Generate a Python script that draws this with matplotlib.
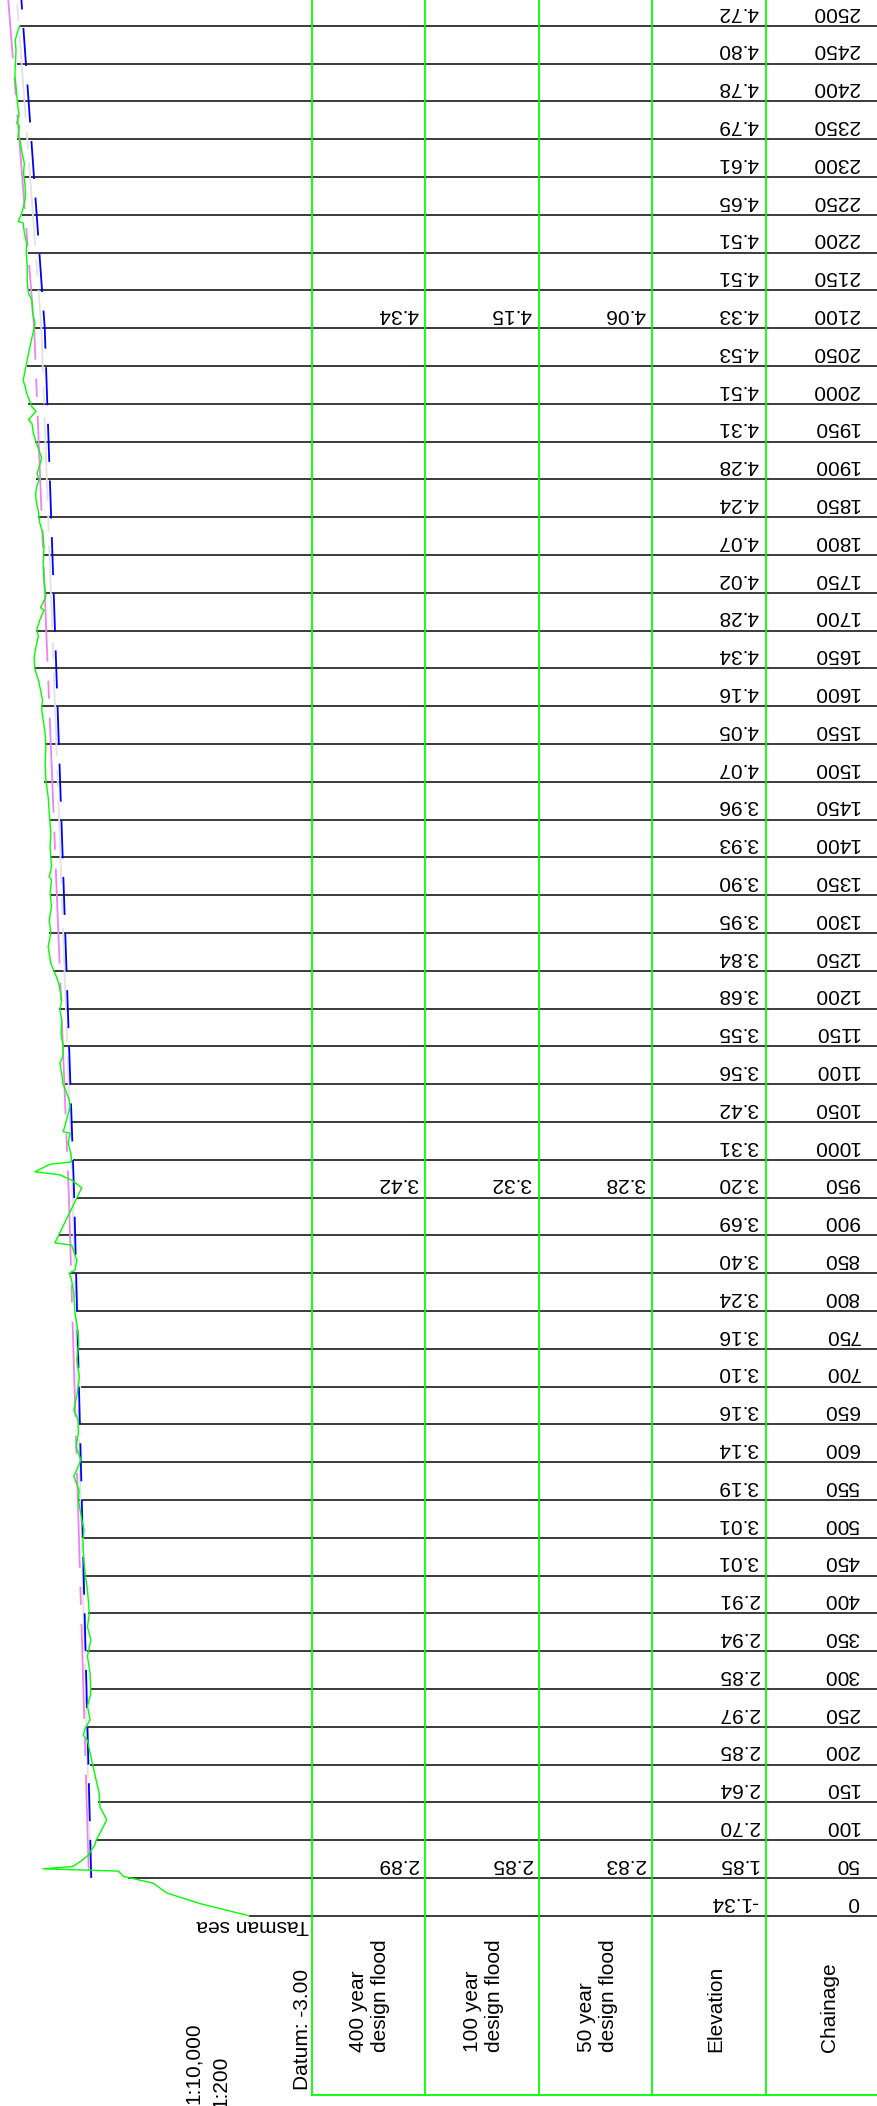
import matplotlib
matplotlib.use("Agg")
import matplotlib.pyplot as plt

plt.rcParams['font.family'] = ['Liberation Sans', 'DejaVu Sans']
plt.rcParams['lines.scale_dashes'] = False

# stations along the long section (m) and ground level at each station (m)
chainage = list(range(0, 2501, 50))
elevation = [-1.34, 1.85, 2.70, 2.64, 2.85, 2.97, 2.85, 2.94, 2.91, 3.01,
             3.01, 3.19, 3.14, 3.16, 3.10, 3.16, 3.24, 3.40, 3.69, 3.20,
             3.31, 3.42, 3.56, 3.55, 3.68, 3.84, 3.95, 3.90, 3.93, 3.96,
             4.07, 4.05, 4.16, 4.34, 4.28, 4.02, 4.07, 4.24, 4.28, 4.31,
             4.51, 4.53, 4.33, 4.51, 4.51, 4.65, 4.61, 4.79, 4.78, 4.80,
             4.72]

# design flood levels
flood_ch = [50, 950, 2100, 2550]
flood_400 = [2.89, 3.42, 4.34, 5.05]
flood_100 = [2.85, 3.32, 4.15, 4.82]
flood_50 = [2.83, 3.28, 4.06, 4.70]

# surveyed ground profile
ground_ch = [0, 16, 30, 43, 52, 59, 62, 65, 73, 80, 87, 94, 100, 109, 127, 144,
             162, 175, 193, 206, 232, 239, 250, 259, 277, 294, 321, 343, 365,
             382, 400, 431, 448, 466, 484, 497, 510, 524, 550, 563, 581, 603,
             620, 638, 656, 669, 691, 713, 735, 757, 779, 797, 823, 841, 850,
             854, 867, 887, 890, 963, 973, 980, 984, 994, 997, 1008, 1022,
             1035, 1037, 1053, 1070, 1079, 1088, 1101, 1114, 1128, 1136, 1150,
             1167, 1185, 1198, 1211, 1229, 1238, 1250, 1260, 1282, 1300, 1317,
             1335, 1352, 1370, 1374, 1388, 1414, 1432, 1458, 1480, 1502, 1524,
             1546, 1564, 1582, 1595, 1608, 1621, 1635, 1644, 1652, 1665, 1679,
             1692, 1701, 1714, 1727, 1730, 1745, 1767, 1789, 1811, 1829, 1842,
             1855, 1873, 1882, 1890, 1899, 1908, 1928, 1948, 1961, 1974, 1979,
             1990, 1996, 2005, 2014, 2023, 2031, 2054, 2076, 2098, 2107, 2120,
             2137, 2146, 2159, 2181, 2199, 2212, 2226, 2239, 2241, 2252, 2261,
             2274, 2288, 2305, 2318, 2332, 2349, 2353, 2367, 2371, 2382, 2393,
             2402, 2420, 2437, 2455, 2468, 2481, 2495, 2500]
ground_el = [-1.34, -0.05, 0.83, 1.19, 1.98, 2.11, 4.11, 3.32, 3.08, 2.91, 2.82,
             2.73, 2.70, 2.60, 2.42, 2.60, 2.62, 2.68, 2.76, 2.82, 2.93, 3.04,
             2.97, 2.86, 2.93, 2.84, 2.86, 2.93, 2.84, 2.93, 2.88, 2.93, 2.98,
             3.02, 3.04, 3.05, 3.02, 3.08, 3.17, 3.15, 3.29, 3.10, 3.23, 3.17,
             3.18, 3.29, 3.20, 3.14, 3.21, 3.16, 3.20, 3.26, 3.29, 3.35, 3.41,
             3.26, 3.21, 3.35, 3.79, 3.08, 3.35, 3.66, 4.32, 3.92, 3.35, 3.37,
             3.44, 3.39, 3.57, 3.48, 3.39, 3.41, 3.48, 3.58, 3.61, 3.66, 3.58,
             3.57, 3.63, 3.61, 3.66, 3.61, 3.67, 3.72, 3.82, 3.90, 3.97, 3.90,
             3.94, 3.88, 3.92, 3.88, 3.94, 3.88, 3.92, 3.90, 3.94, 3.97, 4.03,
             4.05, 4.03, 4.05, 4.10, 4.14, 4.12, 4.17, 4.23, 4.29, 4.33, 4.34,
             4.29, 4.23, 4.27, 4.19, 4.08, 4.17, 4.03, 4.08, 4.10, 4.08, 4.11,
             4.19, 4.22, 4.29, 4.30, 4.27, 4.21, 4.26, 4.14, 4.28, 4.36, 4.40,
             4.49, 4.29, 4.40, 4.47, 4.54, 4.58, 4.63, 4.54, 4.45, 4.35, 4.32,
             4.38, 4.40, 4.49, 4.52, 4.52, 4.55, 4.54, 4.60, 4.63, 4.76, 4.67,
             4.62, 4.57, 4.58, 4.62, 4.60, 4.66, 4.72, 4.77, 4.73, 4.80, 4.74,
             4.77, 4.79, 4.82, 4.85, 4.83, 4.82, 4.84, 4.76, 4.72]

headers = ['400 year\ndesign flood', '100 year\ndesign flood',
           '50 year\ndesign flood', 'Elevation', 'Chainage']

W, H = 877, 2106
DATUM = -3.0
x_datum = 311.6      # left edge of the table band, px
px_per_m = 37.8      # vertical scale 1:200
px_per_ch = 0.756    # horizontal scale 1:10,000
y_ch0 = 1915.7       # pixel row of chainage 0
col_w = 113.5
fs = 15

ch_top = y_ch0 / px_per_ch
ch_bot = (y_ch0 - H) / px_per_ch
el_left = DATUM + x_datum / px_per_m

fig = plt.figure(figsize=(W / 100, H / 100), dpi=100)
fig.patch.set_facecolor('white')

# profile band: elevation runs right-to-left, chainage bottom-to-top
ax = fig.add_axes([0, 0, x_datum / W, 1])
ax.set_xlim(el_left, DATUM)
ax.set_ylim(ch_bot, ch_top)
ax.axis('off')

tb = fig.add_axes([x_datum / W, 0, 1 - x_datum / W, 1], sharey=ax)
tb.set_xlim(0, W - x_datum)
tb.axis('off')

# station lines from ground level through the table
ax.hlines(chainage, elevation, DATUM, colors='#1a1a1a', lw=1.2, zorder=2)
tb.hlines(chainage, 0, W - x_datum, colors='#1a1a1a', lw=1.2, zorder=2)

ax.plot(flood_400, flood_ch, color='violet', lw=1.3, zorder=3,
        ls=(103, (68.4, 13.7, 13.0, 13.7)))
ax.plot(flood_100, flood_ch, color='#e2e2e2', lw=1.3, zorder=3,
        ls=(20, (60, 10, 12, 10)))
ax.plot(flood_50, flood_ch, color='#0000ff', lw=1.3, zorder=4,
        ls=(0, (27.4, 13.4)))
ax.plot(ground_el, ground_ch, color='#00ff00', lw=1.0, zorder=5)

# table frame
ybase = 11 / H
for i in range(5):
    tb.axvline(i * col_w, ymin=ybase, ymax=1, color='#00ff00', lw=1.3,
               clip_on=False, zorder=6)
tb.plot([0, W - x_datum], [ybase, ybase], transform=tb.get_xaxis_transform(),
        color='#00ff00', lw=1.3, clip_on=False, zorder=6)

header_x = [57.4, 172.4, 285.4, 404.0, 517.4]
for hx, txt in zip(header_x, headers):
    tb.text(hx, 54 / H, txt, transform=tb.get_xaxis_transform(), rotation=90,
            ha='center', va='bottom', multialignment='left', fontsize=fs)

for c, e in zip(chainage, elevation):
    tb.annotate(f'{e:.2f}', xy=(4 * col_w - 7, c), xytext=(0, 3),
                textcoords='offset points', rotation=180, ha='right',
                va='bottom', fontsize=fs)
    tb.annotate(f'{c}', xy=(547.9, c), xytext=(0, 3),
                textcoords='offset points', rotation=180, ha='right',
                va='bottom', fontsize=fs)

for i, vals in enumerate([flood_400, flood_100, flood_50]):
    for c, v in zip(flood_ch, vals):
        if c <= chainage[-1]:
            tb.annotate(f'{v:.2f}', xy=((i + 1) * col_w - 7, c), xytext=(0, 3),
                        textcoords='offset points', rotation=180, ha='right',
                        va='bottom', fontsize=fs)

tb.text(-3, 0, 'Tasman sea', rotation=180, ha='right', va='top', fontsize=fs,
        clip_on=False)
tb.text(0, 16 / H, 'Datum: -3.00', transform=tb.get_xaxis_transform(),
        rotation=90, ha='right', va='bottom', fontsize=fs)

# drawing scales
fig.text(193 / W, 1 - 2022 / H, '1:10,000', rotation=90, ha='center',
         va='top', fontsize=fs)
fig.text(221 / W, 1 - 2056 / H, '1:200', rotation=90, ha='center',
         va='top', fontsize=fs)

fig.savefig('out.png', dpi=100)
